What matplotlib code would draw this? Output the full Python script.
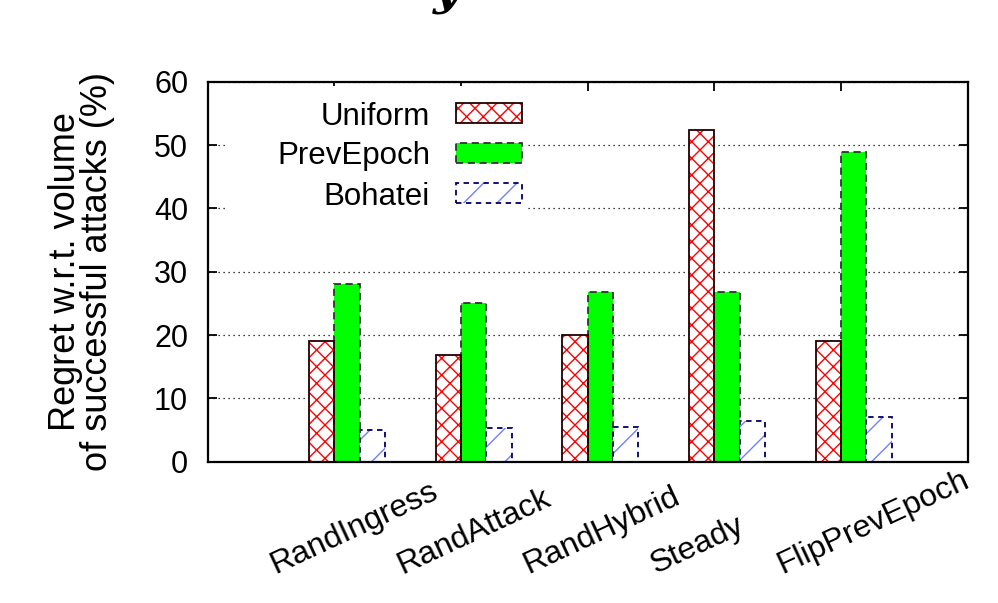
import numpy as np
import matplotlib
matplotlib.use("Agg")
import matplotlib.pyplot as plt
from matplotlib import font_manager
from matplotlib.patches import Rectangle
from matplotlib.transforms import ScaledTranslation

categories = ["RandIngress", "RandAttack", "RandHybrid", "Steady", "FlipPrevEpoch"]
series_names = ["Uniform", "PrevEpoch", "Bohatei"]
uniform = [19.1, 16.8, 20.0, 52.4, 19.0]
prev_epoch = [28.0, 25.0, 26.8, 26.8, 48.9]
bohatei = [5.0, 5.4, 5.5, 6.4, 7.0]
yticks = [0, 10, 20, 30, 40, 50, 60]

names = {f.name for f in font_manager.fontManager.ttflist}
narrow = "Liberation Sans Narrow" if "Liberation Sans Narrow" in names else "Liberation Sans"
key_size = 27 if narrow == "Liberation Sans Narrow" else 22.5
plt.rcParams["font.family"] = ["Liberation Sans", "DejaVu Sans"]
plt.rcParams["hatch.linewidth"] = 1.0

fig = plt.figure(figsize=(9.98, 6.03), dpi=100)
ax = fig.add_axes([0.2081, 0.2343, 0.7616, 0.6302])

x = np.arange(len(categories)) * 5
# Uniform: red crosshatch, dark outline drawn separately
ax.bar(x - 1, uniform, 1, color="white", edgecolor="red", hatch="xx", linewidth=0, zorder=2)
ax.bar(x - 1, uniform, 1, fill=False, edgecolor="#220000", linewidth=1.3, zorder=3)
ax.bar(x, prev_epoch, 1, color="#00ff00", edgecolor="#333333", linestyle=(0, (4, 2.5)),
       linewidth=1.3, zorder=2)
ax.bar(x + 1, bohatei, 1, color="white", edgecolor="#7080ff", hatch="/", linewidth=0, zorder=2)
ax.bar(x + 1, bohatei, 1, fill=False, edgecolor="#000066", linestyle=(0, (3, 2.5)),
       linewidth=1.3, zorder=3)

ax.set_xlim(-5.5, 24.5)
ax.set_ylim(0, 60)
ax.set_yticks(yticks)
ax.set_axisbelow(True)
ax.yaxis.grid(True, linestyle=(0, (1, 3)), color="black", linewidth=0.9)

ax.tick_params(axis="y", direction="in", length=6.5, width=1.3, right=True,
               labelsize=22, pad=14)
ax.set_xticks(x - 0.5)
ax.tick_params(axis="x", direction="in", length=6.5, width=1.3, top=True,
               labelbottom=False)
for sp in ax.spines.values():
    sp.set_linewidth(1.6)

# rotated category labels
off = ScaledTranslation(-0.59, -1.12, fig.dpi_scale_trans)
for xi, name in zip(x - 0.5, categories):
    ax.text(xi, 0, name, transform=ax.get_xaxis_transform() + off, fontsize=23,
            rotation=25, rotation_mode="anchor", ha="left", va="baseline", clip_on=False)

ax.set_ylabel("Regret w.r.t. volume\nof successful attacks (%)", fontsize=26, linespacing=0.88)
ax.yaxis.set_label_coords(-0.122, 0.5)

# key, gnuplot style: label on the left, sample on the right
ax.add_patch(Rectangle((0.027, 0.652), 0.394, 0.337, transform=ax.transAxes,
                       facecolor="white", edgecolor="none", zorder=4))
key_y = [0.9176, 0.8124, 0.7071]
kw, kh = 0.0868, 0.0526
styles = [
    dict(facecolor="white", edgecolor="red", hatch="xx", linewidth=0),
    dict(facecolor="#00ff00", edgecolor="#333333", linestyle=(0, (4, 2.5)), linewidth=1.3),
    dict(facecolor="white", edgecolor="#7080ff", hatch="/", linewidth=0),
]
outlines = [
    dict(fill=False, edgecolor="#220000", linewidth=1.3),
    None,
    dict(fill=False, edgecolor="#000066", linestyle=(0, (3, 2.5)), linewidth=1.3),
]
for ky, name, st, ol in zip(key_y, series_names, styles, outlines):
    ax.add_patch(Rectangle((0.3267, ky - kh / 2), kw, kh, transform=ax.transAxes,
                           zorder=5, **st))
    if ol:
        ax.add_patch(Rectangle((0.3267, ky - kh / 2), kw, kh, transform=ax.transAxes,
                               zorder=6, **ol))
    ax.text(0.2925, ky, name, transform=ax.transAxes, fontsize=key_size, family=narrow,
            ha="right", va="center_baseline", zorder=6)

# clipped title glyph at the very top (cut off in the original too)
fig.text(447 / 998, 1 - 4 / 603, "y", fontsize=34, family="DejaVu Serif", style="italic",
         weight="bold", ha="center", va="baseline")

fig.savefig("out.png", dpi=100)
